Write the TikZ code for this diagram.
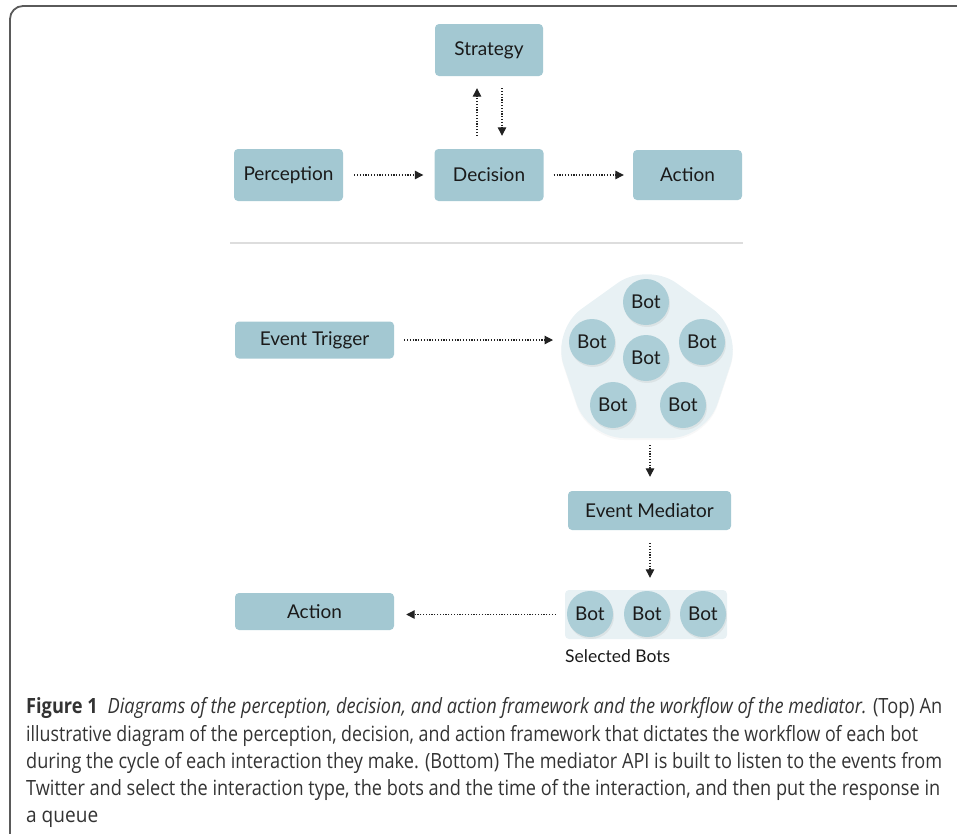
\documentclass[tikz,border=0pt]{standalone}
\usepackage{fontspec}
\usepackage{graphicx}
\usetikzlibrary{arrows.meta,shadows}
\setmainfont{Lato}
\newfontfamily\capfont{Open Sans}
\definecolor{boxblue}{HTML}{A3C8D2}
\definecolor{botblue}{HTML}{ACCED7}
\definecolor{bgblue}{HTML}{E8F1F4}
\definecolor{framegray}{HTML}{5A5A5A}
\definecolor{arrowgray}{HTML}{222222}
\definecolor{txt}{HTML}{1A1A1A}
\definecolor{captxt}{HTML}{333333}
\definecolor{sepgray}{HTML}{DDDDDD}
\newsavebox\capbox
\newcommand\capline[2]{\sbox\capbox{#2}\pgfmathsetmacro\capfac{#1/\the\wd\capbox}\scalebox{\capfac}[1]{\usebox\capbox}}
\tikzset{
  box/.style={fill=boxblue, rounded corners=4pt, text=txt, inner sep=0pt,
    font=\fontsize{19}{21}\selectfont},
  bot/.style={circle, fill=botblue, minimum size=46pt, inner sep=0pt, text=txt,
    font=\fontsize{19}{21}\selectfont,
    drop shadow={opacity=0.12, shadow xshift=1pt, shadow yshift=-2pt}},
  conn/.style={draw=arrowgray, line width=1.2pt, dash pattern=on 1.2pt off 1.6pt,
    -{Triangle[length=8.5pt,width=8.5pt]}},
  capline/.style={anchor=base west, inner sep=0pt, text=captxt,
    font=\capfont\fontsize{21}{28}\selectfont}
}
\begin{document}
\begin{tikzpicture}[x=1pt,y=-1pt]
\useasboundingbox (0,0) rectangle (957,833);
% frame
\draw[framegray, line width=1.8pt, rounded corners=13pt] (962,6) -- (10,6) -- (10,840);
% top part
\node[box, minimum width=108pt, minimum height=52pt] (strat) at (489,50) {Strategy};
\node[box, minimum width=109pt, minimum height=52pt] (perc) at (288.5,175) {Perception};
\node[box, minimum width=109pt, minimum height=52pt] (dec) at (489,175) {Decision};
\node[box, minimum width=109pt, minimum height=50pt] (act1) at (687.5,175) {Action};
\draw[conn, shorten <=11pt, shorten >=11pt] (perc) -- (dec);
\draw[conn, shorten <=10pt, shorten >=9pt] (dec) -- (act1);
\draw[conn, shorten <=13pt, shorten >=12pt] ([xshift=-12pt]dec.north) -- ([xshift=-12pt]strat.south);
\draw[conn, shorten <=12pt, shorten >=13pt] ([xshift=13pt]strat.south) -- ([xshift=13pt]dec.north);
% separator
\coordinate (sepL) at (230,243);
\coordinate (sepR) at (743,243);
\draw[sepgray, line width=2pt] (sepL) -- (sepR);
% bottom part
\node[box, minimum width=159pt, minimum height=37pt] (trig) at (314.5,340) {Event Trigger};
\fill[bgblue, rounded corners=36pt, drop shadow={opacity=0.06, shadow xshift=0pt, shadow yshift=-2pt}]
  (647,262) -- (742,330) -- (706,438) -- (588,438) -- (552,330) -- cycle;
\coordinate (pentW) at (564,340);
\coordinate (pentS) at (650,438);
\node[bot] (b1) at (646,302) {Bot};
\node[bot] (b2) at (592,342) {Bot};
\node[bot] (b3) at (702,342) {Bot};
\node[bot] (b4) at (646,358) {Bot};
\node[bot] (b5) at (613,405) {Bot};
\node[bot] (b6) at (683,405) {Bot};
\draw[conn, shorten <=10pt, shorten >=11pt] (trig.east) -- (trig.east -| pentW);
\node[box, minimum width=163pt, minimum height=39pt] (med) at (649.5,510.5) {Event Mediator};
\draw[conn, shorten <=7pt, shorten >=14pt] (pentS) -- (pentS |- med.north);
\node[fill=bgblue, rounded corners=4pt, minimum width=162pt, minimum height=49pt, inner sep=0pt] (sel) at (646,614.5) {};
\node[bot] (s1) at (590,614) {Bot};
\node[bot] (s2) at (647,614) {Bot};
\node[bot] (s3) at (703,614) {Bot};
\draw[conn, shorten <=13pt, shorten >=12pt] (med.south -| pentS) -- (sel.north -| pentS);
\node[anchor=base west, inner sep=0pt, text=txt, font=\fontsize{17.5}{20}\selectfont] (sellab) at (565,662) {Selected Bots};
\node[box, minimum width=159pt, minimum height=37pt] (act2) at (314.5,611.5) {Action};
\draw[conn, shorten <=9pt, shorten >=12pt] (sel.west) -- (sel.west -| act2.east);
% caption
\node[capline] (cap1) at (26,713) {\capline{916}{\textbf{Figure 1}\hspace{0.55em}\textit{Diagrams of the perception, decision, and action framework and the workflow of the mediator.} (Top) An}};
\node[capline] (cap2) at (26,741) {\capline{892}{illustrative diagram of the perception, decision, and action framework that dictates the workflow of each bot}};
\node[capline] (cap3) at (26,768) {\capline{916}{during the cycle of each interaction they make. (Bottom) The mediator API is built to listen to the events from}};
\node[capline] (cap4) at (26,795) {\capline{914}{Twitter and select the interaction type, the bots and the time of the interaction, and then put the response in}};
\node[capline] (cap5) at (26,822) {\capline{72}{a queue}};
\end{tikzpicture}
\end{document}
